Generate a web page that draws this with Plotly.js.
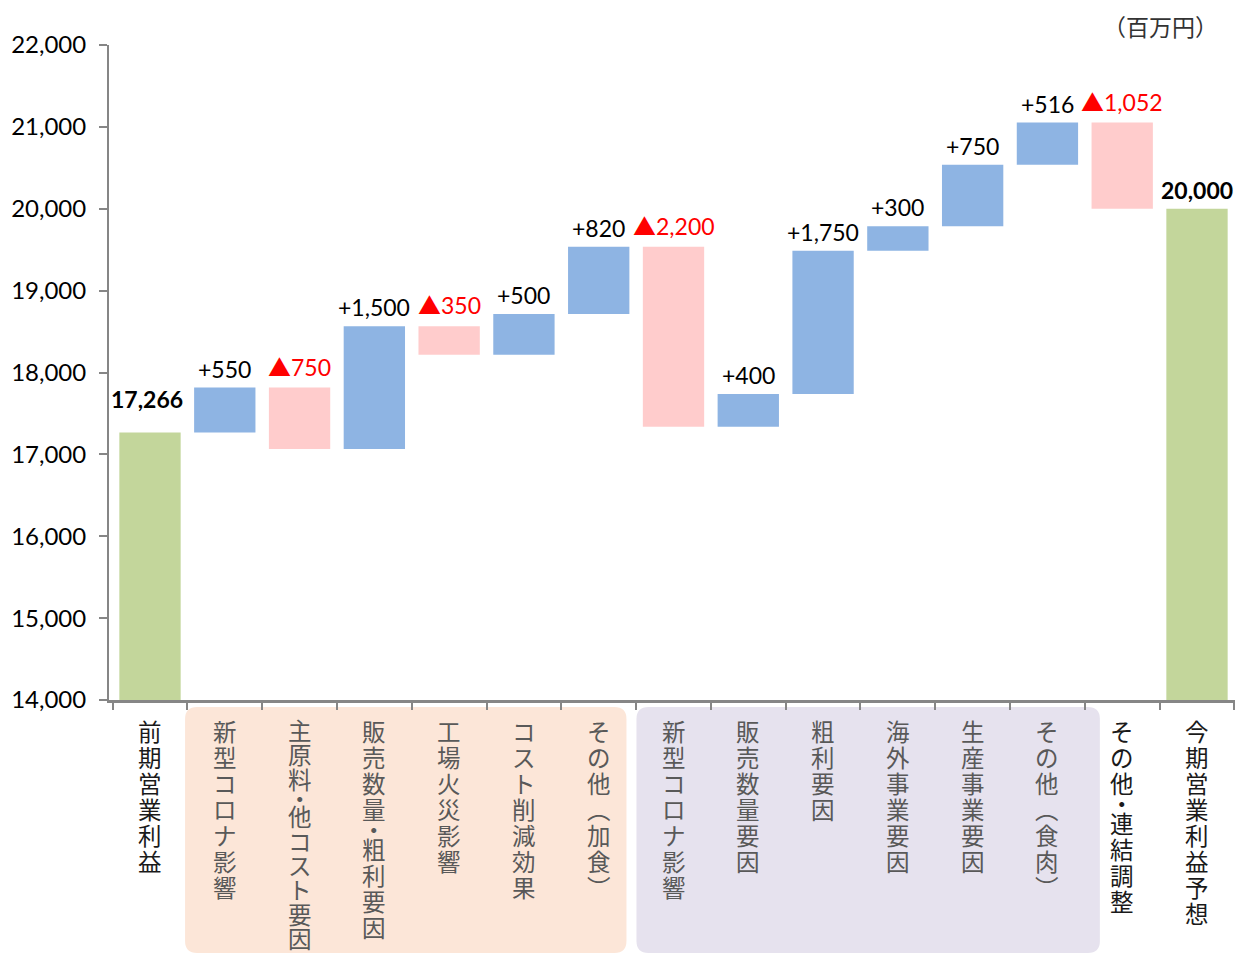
<!DOCTYPE html>
<html>
<head>
<meta charset="utf-8">
<script src="https://cdn.plot.ly/plotly-3.0.1.min.js"></script>
<style>html,body{margin:0;padding:0;background:#fff;}#chart{width:1238px;height:954px;}</style>
</head>
<body>
<div id="chart"></div>
<script>
// ---- data ----
const categories = [
  "前期営業利益", "新型コロナ影響", "主原料・他コスト要因", "販売数量・粗利要因",
  "工場火災影響", "コスト削減効果", "その他（加食）", "新型コロナ影響 ",
  "販売数量要因", "粗利要因", "海外事業要因", "生産事業要因",
  "その他（食肉）", "その他・連結調整", "今期営業利益予想"
];
const measures = ["absolute","relative","relative","relative","relative","relative","relative",
  "relative","relative","relative","relative","relative","relative","relative","total"];
const values = [17266, 550, -750, 1500, -350, 500, 820, -2200, 400, 1750, 300, 750, 516, -1052, 20000];
const groupA = [1, 6];   // first shaded group (category indices)
const groupB = [7, 12];  // second shaded group
const yTicks = [14000, 15000, 16000, 17000, 18000, 19000, 20000, 21000, 22000];
const unitLabel = "（百万円）";

// ---- layout constants ----
const W = 1238, H = 954;
const M = {l: 109, r: 3, t: 45, b: 254};
const plotW = W - M.l - M.r, plotH = H - M.t - M.b;
const numFont = "Lato, 'Noto Sans', sans-serif";
const cjkFont = "'Noto Sans CJK JP', sans-serif";

const fmt = v => Math.abs(v).toLocaleString("en-US");
const tri = '<span style="font-family:\'Noto Sans CJK JP\'">▲</span>';

// value labels
const annotations = [];
let cum = 0;
categories.forEach((c, i) => {
  const m = measures[i];
  let top, text, color;
  if (m === "absolute") { cum = values[i]; top = cum; text = "<b>" + fmt(cum) + "</b>"; color = "#000"; }
  else if (m === "total") { top = cum; text = "<b>" + fmt(cum) + "</b>"; color = "#000"; }
  else {
    const before = cum; cum += values[i];
    top = Math.max(before, cum);
    if (values[i] >= 0) { text = "+" + fmt(values[i]); color = "#000"; }
    else { text = tri + fmt(values[i]); color = "#FF0000"; }
  }
  annotations.push({
    x: c, y: top, xref: "x", yref: "y", text: text, showarrow: false,
    yanchor: "bottom", yshift: (m === "absolute") ? 18 : 3,
    xshift: (m === "absolute") ? -3 : 0,
    font: {family: numFont, size: 23, color: color}
  });
});

// vertical category labels (one character per row)
const vertMap = {"（": "︵", "）": "︶"};
const labelTop = 18, labelMaxH = 232, basePitch = 26;
categories.forEach((c, i) => {
  const inGroup = (i >= groupA[0] && i <= groupA[1]) || (i >= groupB[0] && i <= groupB[1]);
  const chars = Array.from(c.trim());
  const adv = chars.map(ch => ch === "・" ? 0.55 : 1);
  const total = adv.reduce((a, b) => a + b, 0);
  const pitch = Math.min(basePitch, labelMaxH / total);
  let pos = labelTop;
  chars.forEach((ch, k) => {
    const center = pos + adv[k] * pitch / 2;
    pos += adv[k] * pitch;
    annotations.push({
      x: c, xref: "x", y: 0, yref: "paper", text: vertMap[ch] || ch, showarrow: false,
      yanchor: "middle", yshift: -center,
      font: {family: cjkFont, size: 23.5, color: inGroup ? "#595959" : "#1a1a1a"}
    });
  });
});

annotations.push({
  x: (1160 - M.l) / plotW, xref: "paper", y: (H - M.b - 26) / plotH, yref: "paper",
  text: unitLabel, showarrow: false, xanchor: "center", yanchor: "middle",
  font: {family: cjkFont, size: 23, color: "#333"}
});

// rounded shaded regions under the axis
function roundRect(x0p, x1p, y0p, y1p, rpx) {
  const x0 = (x0p - M.l) / plotW, x1 = (x1p - M.l) / plotW;
  const y0 = (H - M.b - y0p) / plotH, y1 = (H - M.b - y1p) / plotH; // y0 top, y1 bottom
  const rx = rpx / plotW, ry = rpx / plotH;
  return `M ${x0 + rx},${y0} L ${x1 - rx},${y0} Q ${x1},${y0} ${x1},${y0 - ry} ` +
         `L ${x1},${y1 + ry} Q ${x1},${y1} ${x1 - rx},${y1} L ${x0 + rx},${y1} ` +
         `Q ${x0},${y1} ${x0},${y1 + ry} L ${x0},${y0 - ry} Q ${x0},${y0} ${x0 + rx},${y0} Z`;
}
const catPx = i => M.l + plotW / categories.length * (i + 0.5);
const halfCat = plotW / categories.length / 2;
const shapes = [
  {type: "path", xref: "paper", yref: "paper", layer: "below",
   path: roundRect(catPx(groupA[0]) - halfCat + 1, catPx(groupA[1]) + halfCat - 8, 707, 953, 12),
   fillcolor: "#FCE6D8", line: {width: 0}},
  {type: "path", xref: "paper", yref: "paper", layer: "below",
   path: roundRect(catPx(groupB[0]) - halfCat + 2, catPx(groupB[1]) + halfCat + 15, 707, 953, 12),
   fillcolor: "#E6E2EE", line: {width: 0}}
];

const trace = {
  type: "waterfall",
  x: categories, y: values, measure: measures,
  increasing: {marker: {color: "#8EB4E3"}},
  decreasing: {marker: {color: "#FFCCCC"}},
  totals: {marker: {color: "#C3D69B"}},
  connector: {visible: false},
  textinfo: "none",
  hoverinfo: "skip"
};

const layout = {
  width: W, height: H,
  margin: M,
  paper_bgcolor: "#fff", plot_bgcolor: "#fff",
  showlegend: false,
  waterfallgap: 0.18,
  xaxis: {
    type: "category", showticklabels: false, showgrid: false, zeroline: false,
    showline: true, linecolor: "#868686", linewidth: 2.5,
    ticks: "outside", tickson: "boundaries", ticklen: 7, tickcolor: "#868686", tickwidth: 2,
    fixedrange: true
  },
  yaxis: {
    range: [14000, 22000], tickvals: yTicks, tickformat: ",d",
    showgrid: false, zeroline: false,
    showline: true, linecolor: "#868686", linewidth: 2,
    ticks: "outside", ticklen: 8, tickcolor: "#868686", tickwidth: 2,
    ticklabelstandoff: 8,
    tickfont: {family: numFont, size: 24, color: "#000"},
    fixedrange: true
  },
  annotations: annotations,
  shapes: shapes
};

Plotly.newPlot("chart", [trace], layout, {displayModeBar: false, staticPlot: true});
</script>
</body>
</html>
